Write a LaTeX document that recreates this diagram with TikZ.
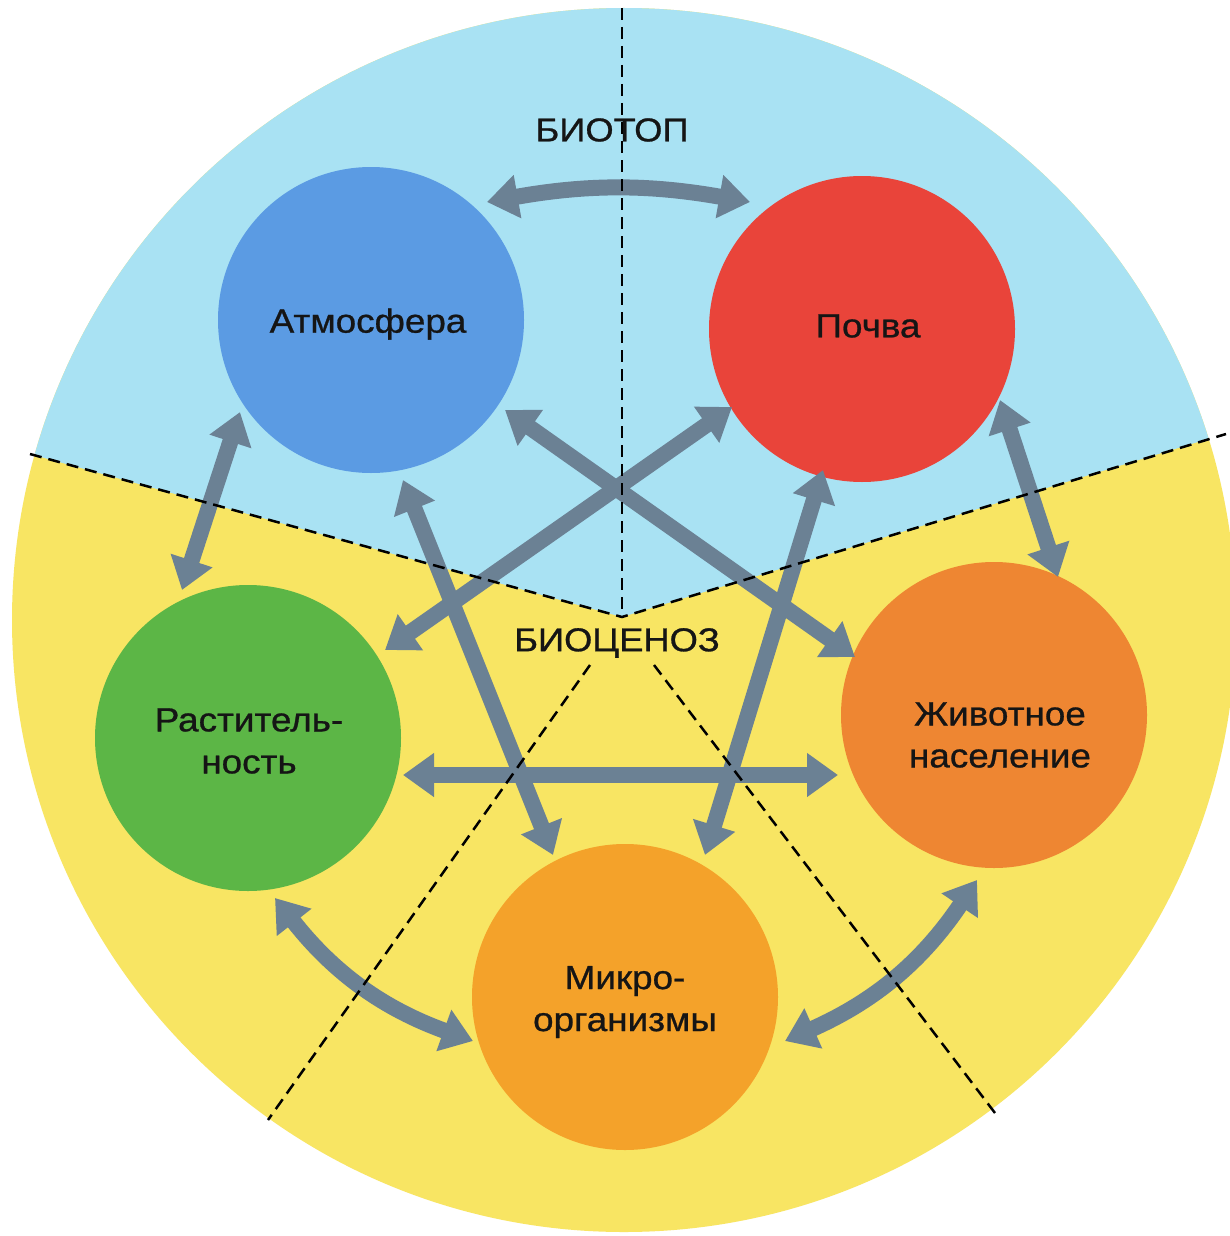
\documentclass[tikz,border=0pt]{standalone}
\usepackage{fontspec}
\setmainfont{Liberation Sans}[FakeStretch=1.1, FakeBold=0.8]
\usetikzlibrary{arrows.meta,calc}
\definecolor{skyb}{HTML}{A9E2F3}
\definecolor{yelb}{HTML}{F8E563}
\definecolor{atmc}{HTML}{5B9BE3}
\definecolor{soilc}{HTML}{E9443A}
\definecolor{plantc}{HTML}{5CB646}
\definecolor{animc}{HTML}{EE8632}
\definecolor{microc}{HTML}{F4A22A}
\definecolor{arrc}{HTML}{6B8194}
\definecolor{inkc}{HTML}{151515}
\tikzset{
  bub/.style={circle, minimum size=306pt, inner sep=0pt},
  lbl/.style={align=center, inner sep=0pt, text=inkc,
    font=\fontsize{33.5}{42}\selectfont},
  arr/.style={draw=arrc, line width=16pt, >={Triangle[width=42pt,length=31pt]}, <->},
  sep/.style={draw=black, line width=2.5pt, dash pattern=on 12pt off 7pt},
  zone/.style={font=\fontsize{33}{40}\selectfont, inner sep=0pt, text=inkc}
}
\begin{document}
\begin{tikzpicture}[x=1pt,y=1pt]
\useasboundingbox (0,0) rectangle (1229,-1236);
\fill[white] (0,0) rectangle (1229,-1236);
% disk
\fill[yelb] (624,-620) circle[radius=612pt];
\begin{scope}
  \clip (624,-620) circle[radius=612pt];
  \fill[skyb] (622,-617) -- (-50,-432) -- (-50,50) -- (1300,50) -- (1300,-411) -- cycle;
\end{scope}
% circles
\node[bub, fill=atmc, label={[lbl, xshift=-3pt, yshift=-4pt]center:Атмосфера}] (A) at (371,-320) {};
\node[bub, fill=soilc, label={[lbl, xshift=6pt, yshift=3pt]center:Почва}] (P) at (862,-329) {};
\node[bub, fill=plantc, label={[lbl, xshift=1pt, yshift=-3pt]center:Раститель-\\ность}] (R) at (248,-738) {};
\node[bub, fill=animc, label={[lbl, xshift=6pt, yshift=-20pt]center:Животное\\население}] (Z) at (994,-715) {};
\node[bub, fill=microc, label={[lbl, xshift=0pt, yshift=-5pt]center:Микро-\\организмы}] (M) at (625,-997) {};
% arrows
\draw[arr] ($(A)+(116,118)$) to[bend left=10] ($(P)+(-112,127)$);
\draw[arr] ($(A)+(-131,-92)$) -- ($(R)+(-66,148)$);
\draw[arr] ($(P)+(138,-71)$) -- ($(Z)+(64,138)$);
\draw[arr] ($(R)+(27,-160)$) to[bend right=16] ($(M)+(-152,-44)$);
\draw[arr] ($(M)+(160,-44)$) to[bend right=16] ($(Z)+(-17,-165)$);
\draw[arr] ($(R)+(155,-37)$) -- ($(Z)+(-156,-60)$);
\draw[arr] ($(A)+(134,-90)$) -- ($(Z)+(-139,58)$);
\draw[arr] ($(P)+(-130,-78)$) -- ($(R)+(137,88)$);
\draw[arr] ($(A)+(32,-160)$) -- ($(M)+(-72,142)$);
\draw[arr] ($(P)+(-39,-141)$) -- ($(M)+(80,142)$);
% zone labels
\node[zone] (bt) at (612,-130) {БИОТОП};
\node[zone] (bc) at (617,-643) {БИОЦЕНОЗ};
% separators
\draw[sep] (622,-8) -- (622,-617);
\draw[sep] (30,-454) -- (622,-617) -- (1226,-434);
\draw[sep] (590,-665) -- (268,-1120);
\draw[sep] (654,-665) -- (995,-1113);
\end{tikzpicture}
\end{document}
